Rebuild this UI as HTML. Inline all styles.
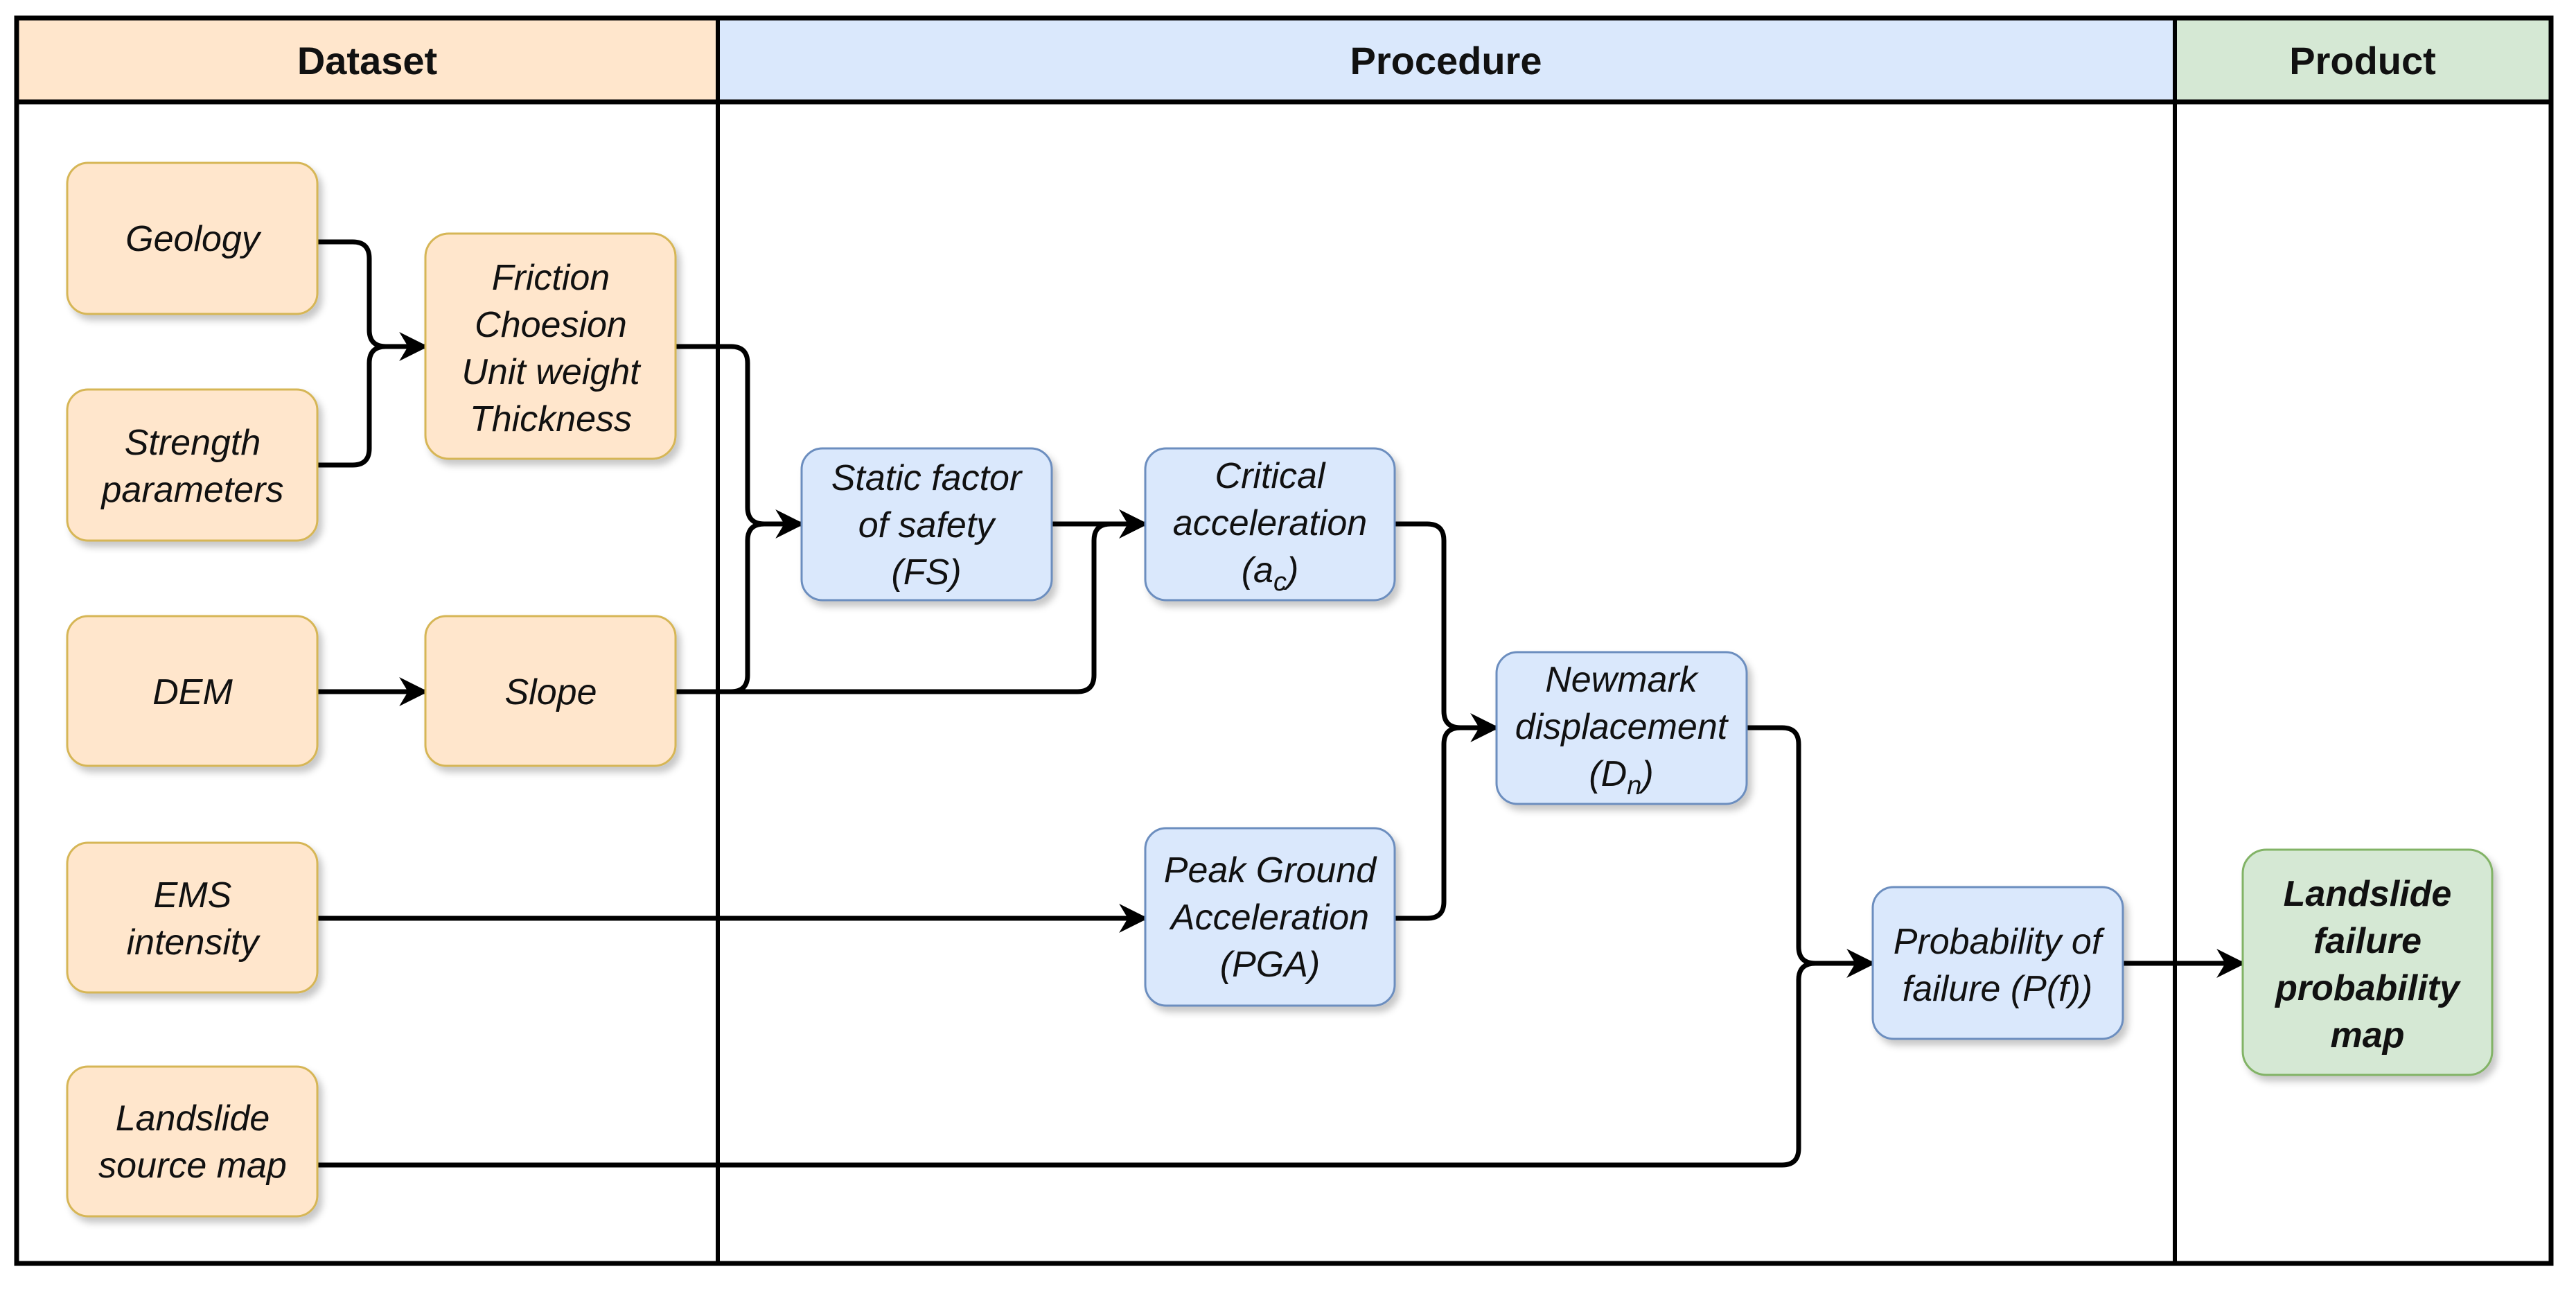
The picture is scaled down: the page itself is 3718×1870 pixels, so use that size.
<!DOCTYPE html>
<html><head><meta charset="utf-8"><style>
html,body{margin:0;padding:0;background:#fff;}
svg{display:block;}
text{font-family:"Liberation Sans",Arial,sans-serif;}
.t{font-size:52px;font-style:italic;fill:#111;text-anchor:middle;}
.h{font-size:56px;font-weight:bold;fill:#111;text-anchor:middle;}
.c{fill:none;stroke:#000;stroke-width:7;stroke-linejoin:round;}
</style></head><body>
<svg width="3718" height="1870" viewBox="0 0 3718 1870" xmlns="http://www.w3.org/2000/svg">
<defs>
<marker id="ar" viewBox="0 0 10 10" refX="9" refY="5" markerWidth="6" markerHeight="6" markerUnits="strokeWidth" orient="auto">
<path d="M0,0 L10,5 L0,10 L3,5 z" fill="#000"/></marker>
<filter id="sh" x="-10%" y="-10%" width="130%" height="130%"><feDropShadow dx="6" dy="8" stdDeviation="5" flood-color="#000" flood-opacity="0.22"/></filter>
</defs>
<rect x="24" y="26" width="1012" height="121" fill="#ffe6cc"/>
<rect x="1036" y="26" width="2103" height="121" fill="#dae8fc"/>
<rect x="3139" y="26" width="543" height="121" fill="#d5e8d4"/>
<rect x="24" y="26" width="3658" height="1797" fill="none" stroke="#000" stroke-width="7"/>
<line x1="24" y1="147" x2="3682" y2="147" stroke="#000" stroke-width="7"/>
<line x1="1036" y1="26" x2="1036" y2="1823" stroke="#000" stroke-width="6"/>
<line x1="3139" y1="26" x2="3139" y2="1823" stroke="#000" stroke-width="6"/>
<text class="h" x="530" y="107">Dataset</text>
<text class="h" x="2087" y="107">Procedure</text>
<text class="h" x="3410" y="107">Product</text>

<g class="c">
<path d="M458,349 H509 Q533,349 533,373 V476 Q533,500 557,500 H614" marker-end="url(#ar)"/>
<path d="M458,671 H509 Q533,671 533,647 V524 Q533,500 557,500"/>
<path d="M975,500 H1055 Q1079,500 1079,524 V732 Q1079,756 1103,756 H1157" marker-end="url(#ar)"/>
<path d="M975,998 H1055 Q1079,998 1079,974 V780 Q1079,756 1103,756"/>
<path d="M975,998 H1555 Q1579,998 1579,974 V780 Q1579,756 1603,756 H1653" marker-end="url(#ar)"/>
<path d="M1518,756 H1653" marker-end="url(#ar)"/>
<path d="M458,998 H614" marker-end="url(#ar)"/>
<path d="M2013,756 H2060 Q2084,756 2084,780 V1026 Q2084,1050 2108,1050 H2160" marker-end="url(#ar)"/>
<path d="M2013,1325 H2060 Q2084,1325 2084,1301 V1074 Q2084,1050 2108,1050"/>
<path d="M458,1325 H1653" marker-end="url(#ar)"/>
<path d="M2521,1050 H2572 Q2596,1050 2596,1074 V1366 Q2596,1390 2620,1390 H2703" marker-end="url(#ar)"/>
<path d="M458,1681 H2572 Q2596,1681 2596,1657 V1414 Q2596,1390 2620,1390"/>
<path d="M3064,1390 H3237" marker-end="url(#ar)"/>
</g>

<g filter="url(#sh)" stroke-width="3">
<g fill="#ffe6cc" stroke="#d6b656">
<rect x="97" y="235" width="361" height="218" rx="30"/>
<rect x="97" y="562" width="361" height="218" rx="30"/>
<rect x="614" y="337" width="361" height="325" rx="34"/>
<rect x="97" y="889" width="361" height="216" rx="30"/>
<rect x="614" y="889" width="361" height="216" rx="30"/>
<rect x="97" y="1216" width="361" height="216" rx="30"/>
<rect x="97" y="1539" width="361" height="216" rx="30"/>
</g>
<g fill="#dae8fc" stroke="#6c8ebf">
<rect x="1157" y="647" width="361" height="219" rx="30"/>
<rect x="1653" y="647" width="360" height="219" rx="30"/>
<rect x="2160" y="941" width="361" height="219" rx="30"/>
<rect x="1653" y="1195" width="360" height="256" rx="30"/>
<rect x="2703" y="1280" width="361" height="219" rx="30"/>
</g>
<rect x="3237" y="1226" width="360" height="325" rx="34" fill="#d5e8d4" stroke="#82b366"/>
</g>

<g class="t">
<text x="278" y="362">Geology</text>
<text x="278" y="656">Strength</text>
<text x="278" y="724">parameters</text>
<text x="795" y="418">Friction</text>
<text x="795" y="486">Choesion</text>
<text x="795" y="554">Unit weight</text>
<text x="795" y="622">Thickness</text>
<text x="278" y="1016">DEM</text>
<text x="795" y="1016">Slope</text>
<text x="278" y="1309">EMS</text>
<text x="278" y="1377">intensity</text>
<text x="278" y="1631">Landslide</text>
<text x="278" y="1699">source map</text>
<text x="1337" y="707">Static factor</text>
<text x="1337" y="775">of safety</text>
<text x="1337" y="843">(FS)</text>
<text x="1833" y="704">Critical</text>
<text x="1833" y="772">acceleration</text>
<text x="1833" y="840">(a<tspan font-size="38" dy="12">c</tspan><tspan dy="-12">)</tspan></text>
<text x="2340" y="998">Newmark</text>
<text x="2340" y="1066">displacement</text>
<text x="2340" y="1134">(D<tspan font-size="38" dy="12">n</tspan><tspan dy="-12">)</tspan></text>
<text x="1833" y="1273">Peak Ground</text>
<text x="1833" y="1341">Acceleration</text>
<text x="1833" y="1409">(PGA)</text>
<text x="2883" y="1376">Probability of</text>
<text x="2883" y="1444">failure (P(f))</text>
<g font-weight="bold">
<text x="3417" y="1307">Landslide</text>
<text x="3417" y="1375">failure</text>
<text x="3417" y="1443">probability</text>
<text x="3417" y="1511">map</text>
</g>
</g>
</svg>
</body></html>
